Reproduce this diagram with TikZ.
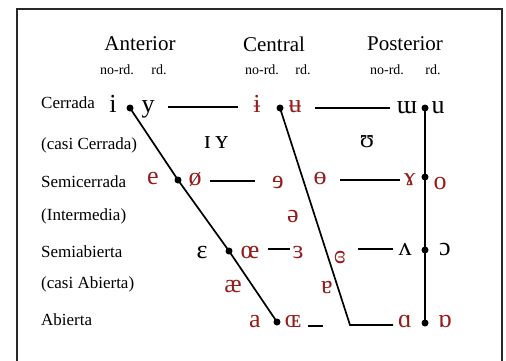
\documentclass[tikz,border=0pt]{standalone}
\usepackage{fontspec}
\setmainfont{Liberation Serif}
\definecolor{ipared}{RGB}{150,28,28}
\definecolor{framegray}{RGB}{40,40,40}
\begin{document}
\begin{tikzpicture}[x=1pt,y=-1pt,
  lab/.style={anchor=west,inner sep=0pt,font=\fontsize{17}{19}\selectfont},
  head/.style={inner sep=0pt,font=\fontsize{21}{24}\selectfont},
  sub/.style={inner sep=0pt,font=\fontsize{14}{16}\selectfont},
  ipa/.style={anchor=base,inner sep=0pt,font=\fontsize{26}{28}\selectfont},
  ipar/.style={ipa,text=ipared},
  ipab/.style={ipa,text=black},
  dotm/.style={circle,fill=black,inner sep=0pt,minimum size=7pt},
  ln/.style={line width=1.7pt,black}]
\useasboundingbox (0,0) rectangle (506,360);
\fill[white] (0,0) rectangle (506,360);
% frame
\coordinate (fbl) at (17,362);
\coordinate (ftl) at (17,9);
\coordinate (ftr) at (502,9);
\coordinate (fbr) at (502,362);
\draw[line width=1.8pt,framegray] (fbl) -- (ftl) -- (ftr) -- (fbr);
% headers
\node[head] (hA) at (140,44) {Anterior};
\node[head] (hC) at (274,44) {Central};
\node[head] (hP) at (405,44) {Posterior};
\node[sub] (sA1) at (117,70) {no-rd.};
\node[sub] (sA2) at (159,70) {rd.};
\node[sub] (sC1) at (262,70) {no-rd.};
\node[sub] (sC2) at (303,70) {rd.};
\node[sub] (sP1) at (387,70) {no-rd.};
\node[sub] (sP2) at (433,70) {rd.};
% row labels
\node[lab] (l1) at (41,103) {Cerrada};
\node[lab] (l2) at (41,145) {(casi Cerrada)};
\node[lab] (l3) at (41,182) {Semicerrada};
\node[lab] (l4) at (41,216) {(Intermedia)};
\node[lab] (l5) at (41,252) {Semiabierta};
\node[lab] (l6) at (41,284) {(casi Abierta)};
\node[lab] (l7) at (41,320) {Abierta};
% vowels
\node[ipab] (v-i) at (113,112) {i};
\node[ipab] (v-y) at (148,112) {y};
\node[ipar] (v-ib) at (257,112) {ɨ};
\node[ipar] (v-ub) at (295,112) {ʉ};
\node[ipab] (v-m) at (407,113) {ɯ};
\node[ipab] (v-u) at (438,113) {u};
\node[ipab] (v-IY) at (216,148) {ɪ\,ʏ};
\node[ipab] (v-U) at (367,147) {ʊ};
\node[ipar] (v-e) at (153,184) {e};
\node[ipar] (v-oe) at (195,185) {ø};
\node[ipar] (v-er) at (278,188) {ɘ};
\node[ipar] (v-ob) at (320,184) {ɵ};
\node[ipar] (v-ga) at (410,185) {ɤ};
\node[ipar] (v-o) at (440,189) {o};
\node[ipar] (v-sch) at (293,222) {ə};
\node[ipab] (v-E) at (202,258) {ɛ};
\node[ipar] (v-OE) at (250,258) {œ};
\node[ipar] (v-3) at (298,258) {ɜ};
\node[ipar] (v-3b) at (340,263) {ɞ};
\node[ipab] (v-V) at (405,255) {ʌ};
\node[ipab] (v-O) at (445,255) {ɔ};
\node[ipar] (v-ae) at (233,292) {æ};
\node[ipar] (v-6) at (327,293) {ɐ};
\node[ipar] (v-a) at (255,327) {a};
\node[ipar] (v-OEs) at (293,327) {ɶ};
\node[ipar] (v-A) at (405,327) {ɑ};
\node[ipar] (v-Ab) at (445,327) {ɒ};
% dots
\node[dotm] (d1) at (130,108) {};
\node[dotm] (d2) at (178,180) {};
\node[dotm] (d3) at (229,251) {};
\node[dotm] (d4) at (277,322) {};
\node[dotm] (c1) at (280,108) {};
\coordinate (c2) at (350,325);
\coordinate (c3) at (393,325);
\node[dotm] (p1) at (425,108) {};
\node[dotm] (p2) at (425,177) {};
\node[dotm] (p3) at (425,250) {};
\node[dotm] (p4) at (425,323) {};
% slanted / vertical lines
\draw[ln] (d1.center) -- (d2.center) -- (d3.center) -- (d4.center);
\draw[ln] (c1.center) -- (c2) -- (c3);
\draw[ln] (p1.center) -- (p2.center) -- (p3.center) -- (p4.center);
% horizontal lines
\coordinate (h1a) at (168,107); \coordinate (h1b) at (238,107);
\coordinate (h2a) at (315,108); \coordinate (h2b) at (390,108);
\coordinate (h3a) at (210,181); \coordinate (h3b) at (255,181);
\coordinate (h4a) at (340,180); \coordinate (h4b) at (400,180);
\coordinate (h5a) at (268,249); \coordinate (h5b) at (290,249);
\coordinate (h6a) at (358,249); \coordinate (h6b) at (393,249);
\coordinate (h7a) at (308,326); \coordinate (h7b) at (323,326);
\draw[ln] (h1a) -- (h1b);
\draw[ln] (h2a) -- (h2b);
\draw[ln] (h3a) -- (h3b);
\draw[ln] (h4a) -- (h4b);
\draw[ln] (h5a) -- (h5b);
\draw[ln] (h6a) -- (h6b);
\draw[ln] (h7a) -- (h7b);
\end{tikzpicture}
\end{document}
